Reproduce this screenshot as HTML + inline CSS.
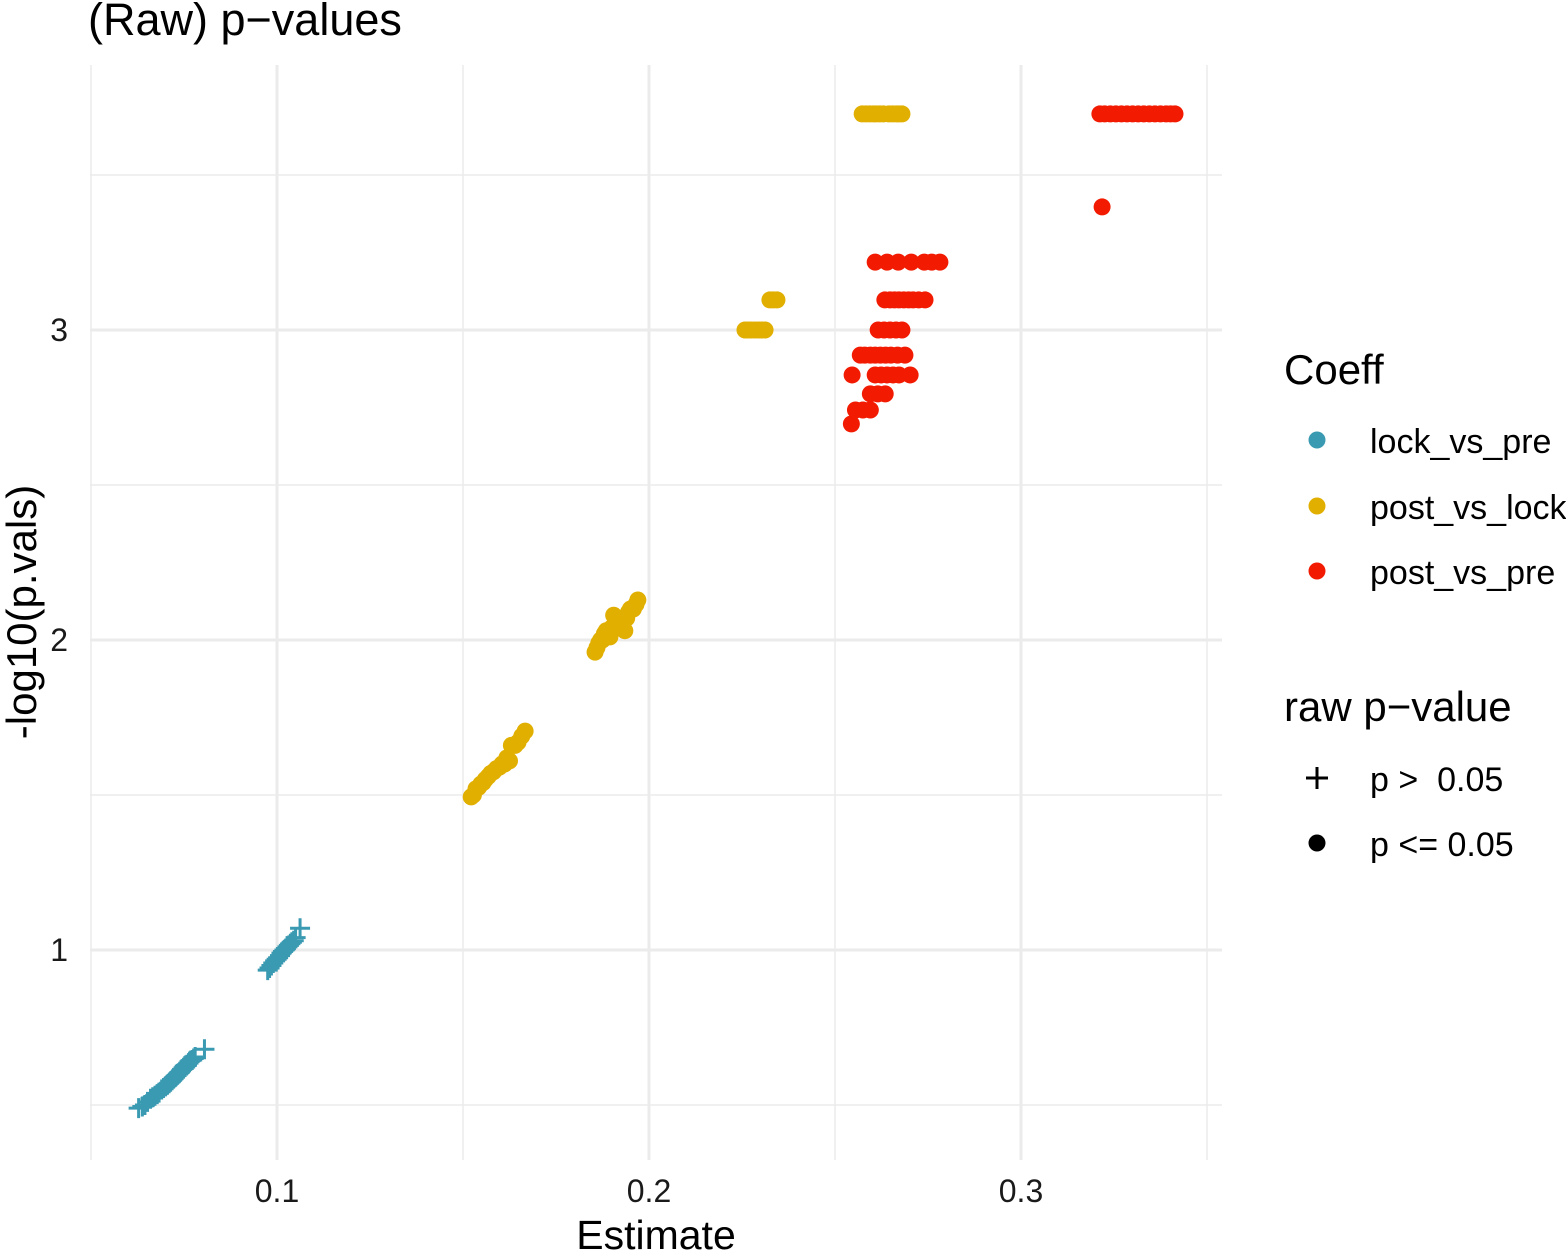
<!DOCTYPE html>
<html><head><meta charset="utf-8"><style>
body{margin:0;background:#fff}
svg{display:block;font-family:"Liberation Sans",Arial,sans-serif}
</style></head><body>
<svg id="chart" width="1566" height="1251"></svg>
<script>
const blueX=[0.0628,0.0638,0.0645,0.0652,0.066,0.0666,0.0672,0.0678,0.0683,0.069,0.0695,0.07,0.0705,0.071,0.0714,0.0718,0.0722,0.0726,0.073,0.0734,0.0738,0.0742,0.0745,0.0749,0.0752,0.0755,0.0758,0.0762,0.0765,0.0768,0.0772,0.0776,0.078,0.0805,0.0975,0.098,0.0985,0.099,0.0995,0.0999,0.1003,0.1008,0.1012,0.1016,0.102,0.1024,0.1028,0.1032,0.1036,0.104,0.1045,0.105,0.1062];
const blueY=[0.49,0.495,0.50,0.51,0.52,0.525,0.53,0.535,0.54,0.55,0.555,0.56,0.565,0.57,0.575,0.58,0.585,0.59,0.595,0.60,0.605,0.61,0.615,0.62,0.625,0.628,0.63,0.635,0.64,0.643,0.645,0.65,0.655,0.68,0.935,0.942,0.95,0.958,0.965,0.97,0.975,0.982,0.99,0.995,1.0,1.005,1.01,1.015,1.02,1.025,1.03,1.04,1.07];
const yelX=[0.1522,0.1528,0.1535,0.1542,0.1548,0.1554,0.156,0.1568,0.1575,0.1582,0.159,0.1598,0.1605,0.1612,0.1618,0.1625,0.163,0.164,0.1648,0.1658,0.1667,0.1855,0.186,0.1865,0.187,0.1875,0.188,0.1885,0.189,0.1895,0.19,0.1905,0.191,0.1915,0.192,0.1925,0.193,0.1935,0.194,0.1945,0.195,0.1958,0.1965,0.197,0.2258,0.2266,0.2275,0.2285,0.2295,0.2303,0.2312,0.2325,0.2334,0.2344,0.2573,0.2583,0.2593,0.2603,0.261,0.262,0.263,0.2645,0.2655,0.2665,0.2672,0.268];
const yelY=[1.494,1.50,1.52,1.525,1.535,1.54,1.55,1.56,1.57,1.575,1.585,1.59,1.60,1.60,1.62,1.61,1.66,1.66,1.67,1.69,1.706,1.961,1.975,1.99,2.0,2.0,2.02,2.03,2.02,2.01,2.04,2.08,2.05,2.04,2.07,2.06,2.05,2.03,2.07,2.09,2.1,2.10,2.115,2.129,3.0,3.0,3.0,3.0,3.0,3.0,3.0,3.097,3.097,3.097,3.697,3.697,3.697,3.697,3.697,3.697,3.697,3.697,3.697,3.697,3.697,3.697];
const redX=[0.3212,0.3225,0.324,0.3255,0.327,0.3285,0.33,0.3315,0.333,0.3345,0.336,0.3375,0.339,0.3402,0.3414,0.3218,0.2608,0.264,0.267,0.2705,0.274,0.276,0.2782,0.2634,0.2648,0.266,0.2672,0.2685,0.2698,0.271,0.2725,0.2742,0.2616,0.2632,0.2648,0.2664,0.268,0.2568,0.258,0.2595,0.2608,0.2622,0.2636,0.265,0.2668,0.2688,0.2546,0.2608,0.2624,0.264,0.2656,0.2672,0.2702,0.2595,0.2615,0.2635,0.2555,0.2575,0.2595,0.2544];
const redY=[3.697,3.697,3.697,3.697,3.697,3.697,3.697,3.697,3.697,3.697,3.697,3.697,3.697,3.697,3.697,3.397,3.219,3.219,3.219,3.219,3.219,3.219,3.219,3.097,3.097,3.097,3.097,3.097,3.097,3.097,3.097,3.097,3.0,3.0,3.0,3.0,3.0,2.919,2.919,2.919,2.919,2.919,2.919,2.919,2.919,2.919,2.855,2.855,2.855,2.855,2.855,2.855,2.855,2.794,2.794,2.794,2.742,2.742,2.742,2.697];
const xTicks=[0.1,0.2,0.3];
const xMinor=[0.05,0.15,0.25,0.35];
const yTicks=[1,2,3];
const yMinor=[0.5,1.5,2.5,3.5];
const xs=v=>277+(v-0.1)*3720;
const ys=v=>330-(v-3)*310;
const svg=document.getElementById('chart');
const NS='http://www.w3.org/2000/svg';
function mk(tag,attrs,parent){const e=document.createElementNS(NS,tag);for(const k in attrs)e.setAttribute(k,attrs[k]);(parent||svg).appendChild(e);return e;}
const L=90,R=1222,T=65,B=1160;
xMinor.forEach(v=>{const l=mk('line',{x1:xs(v),x2:xs(v),y1:T,y2:B,stroke:'#ebebeb','stroke-width':1.5});

});
yMinor.forEach(v=>{const l=mk('line',{x1:L,x2:R,y1:ys(v),y2:ys(v),stroke:'#ebebeb','stroke-width':1.5});

});
xTicks.forEach(v=>{const l=mk('line',{x1:xs(v),x2:xs(v),y1:T,y2:B,stroke:'#ebebeb','stroke-width':3});


const t=mk('text',{x:xs(v),y:1202,'text-anchor':'middle','font-size':32,fill:'#1a1a1a'});t.textContent=v;

});
yTicks.forEach(v=>{const l=mk('line',{x1:L,x2:R,y1:ys(v),y2:ys(v),stroke:'#ebebeb','stroke-width':3});


const t=mk('text',{x:68,y:ys(v)+11,'text-anchor':'end','font-size':32,fill:'#1a1a1a'});t.textContent=v;

});
function plus(x,y,c){const g=mk('path',{d:`M${x-10},${y}H${x+10}M${x},${y-10}V${y+10}`,stroke:c,'stroke-width':3,fill:'none'});

}
blueX.forEach((v,i)=>plus(xs(v),ys(blueY[i]),'#3a9ab2'));
yelX.forEach((v,i)=>{const c=mk('circle',{cx:xs(v),cy:ys(yelY[i]),r:8.5,fill:'#e1af00'});

});
redX.forEach((v,i)=>{const c=mk('circle',{cx:xs(v),cy:ys(redY[i]),r:8.5,fill:'#f21a00'});

});
</script>
<div style="position:absolute;left:0;top:0;width:1566px;height:1251px;pointer-events:none">
<svg width="1566" height="1251" style="font-family:'Liberation Sans',Arial,sans-serif">
<text x="88" y="35" font-size="45" fill="#000">(Raw) p−values</text>
<text x="656" y="1249" font-size="41" text-anchor="middle">Estimate</text>
<text transform="translate(36,612) rotate(-90)" font-size="42" text-anchor="middle">-log10(p.vals)</text>
<g>
<text x="1284" y="384" font-size="42">Coeff</text>
<circle cx="1317" cy="440" r="8.5" fill="#3a9ab2"/><text x="1370" y="453" font-size="34">lock_vs_pre</text>
<circle cx="1317" cy="506" r="8.5" fill="#e1af00"/><text x="1370" y="519" font-size="34">post_vs_lock</text>
<circle cx="1317" cy="571" r="8.5" fill="#f21a00"/><text x="1370" y="584" font-size="34">post_vs_pre</text>
</g>
<g>
<text x="1284" y="721" font-size="42">raw p−value</text>
<path d="M1306,778H1328M1317,767V789" stroke="#000" stroke-width="3"/><text x="1370" y="791" font-size="34" style="white-space:pre">p &gt;  0.05</text>
<circle cx="1317" cy="843" r="8.5" fill="#000"/><text x="1370" y="856" font-size="34">p &lt;= 0.05</text>
</g>
</svg></div>
</body></html>
